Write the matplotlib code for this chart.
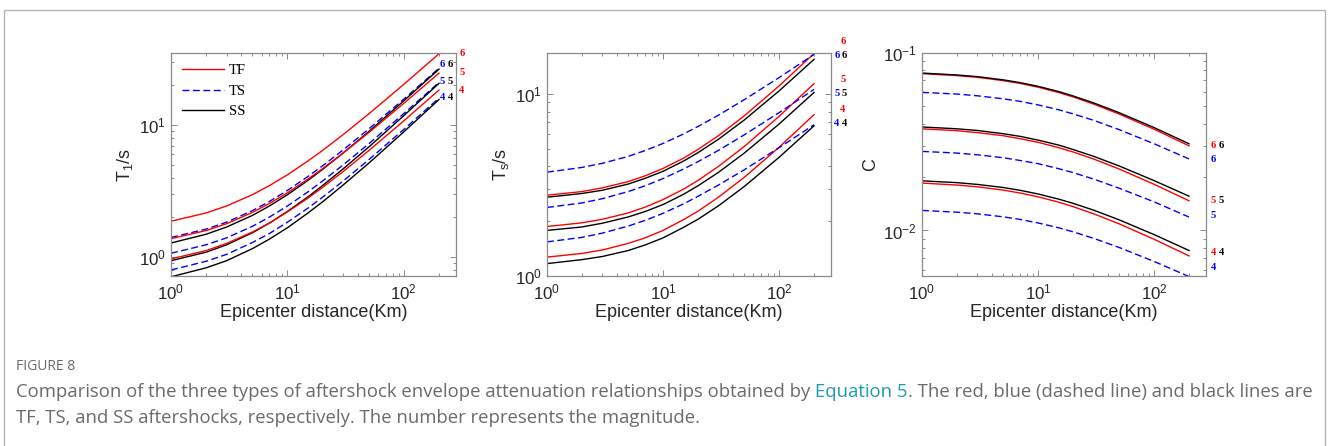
import matplotlib
matplotlib.use('Agg')
import matplotlib.pyplot as plt
from matplotlib.patches import Rectangle
from matplotlib.ticker import LogLocator, NullFormatter
import matplotlib.transforms as mtransforms

# epicentral distance (km) where values were read
dist = [1, 2, 3, 5, 7, 10, 15, 20, 30, 50, 100, 200]

# T1 (s)
t1_tf6 = [1.87, 2.16, 2.44, 2.97, 3.48, 4.20, 5.35, 6.42, 8.45, 12.16, 20.36, 34.6]
t1_tf5 = [1.38, 1.59, 1.79, 2.18, 2.55, 3.07, 3.90, 4.67, 6.13, 8.78, 14.63, 24.7]
t1_tf4 = [0.97, 1.12, 1.27, 1.55, 1.81, 2.20, 2.80, 3.37, 4.44, 6.41, 10.78, 18.4]
t1_ts6 = [1.41, 1.63, 1.84, 2.25, 2.64, 3.20, 4.08, 4.91, 6.47, 9.35, 15.74, 26.9]
t1_ts5 = [1.07, 1.24, 1.40, 1.71, 2.01, 2.44, 3.12, 3.77, 4.98, 7.22, 12.23, 21.0]
t1_ts4 = [0.80, 0.93, 1.05, 1.29, 1.51, 1.84, 2.35, 2.84, 3.76, 5.47, 9.28, 16.0]
t1_ss6 = [1.28, 1.49, 1.69, 2.07, 2.44, 2.97, 3.81, 4.61, 6.13, 8.94, 15.28, 26.5]
t1_ss5 = [0.94, 1.09, 1.24, 1.53, 1.81, 2.22, 2.86, 3.48, 4.65, 6.83, 11.80, 20.7]
t1_ss4 = [0.71, 0.83, 0.94, 1.16, 1.37, 1.67, 2.16, 2.62, 3.51, 5.15, 8.90, 15.6]

# Ts (s)
ts_tf6 = [2.78, 2.91, 3.05, 3.30, 3.55, 3.90, 4.44, 4.96, 5.90, 7.58, 11.08, 16.7]
ts_tf5 = [1.87, 1.96, 2.05, 2.22, 2.39, 2.63, 3.00, 3.35, 4.00, 5.14, 7.54, 11.4]
ts_tf4 = [1.27, 1.33, 1.39, 1.51, 1.62, 1.78, 2.04, 2.27, 2.71, 3.48, 5.10, 7.7]
ts_ts6 = [3.72, 3.95, 4.16, 4.54, 4.89, 5.35, 6.03, 6.63, 7.65, 9.30, 12.31, 16.5]
ts_ts5 = [2.38, 2.52, 2.66, 2.91, 3.13, 3.43, 3.87, 4.25, 4.90, 5.96, 7.90, 10.6]
ts_ts4 = [1.54, 1.63, 1.72, 1.88, 2.02, 2.21, 2.49, 2.74, 3.16, 3.83, 5.07, 6.78]
ts_ss6 = [2.71, 2.84, 2.96, 3.20, 3.44, 3.76, 4.28, 4.76, 5.64, 7.19, 10.40, 15.5]
ts_ss5 = [1.78, 1.86, 1.95, 2.11, 2.26, 2.47, 2.81, 3.13, 3.71, 4.73, 6.84, 10.2]
ts_ss4 = [1.17, 1.23, 1.28, 1.38, 1.48, 1.62, 1.85, 2.05, 2.43, 3.10, 4.49, 6.69]

# C
c_tf6 = [.0765, .0746, .0729, .0699, .0674, .0642, .0599, .0566, .0516, .0453, .0372, .0300]
c_tf5 = [.0374, .0365, .0356, .0342, .0329, .0314, .0293, .0277, .0253, .0222, .0182, .0147]
c_tf4 = [.01849, .01803, .01762, .01689, .01626, .01548, .01444, .01363, .01243, .01090, .00892, .00719]
c_ts6 = [.0600, .0587, .0574, .0552, .0534, .0510, .0479, .0454, .0418, .0370, .0308, .0253]
c_ts5 = [.0279, .0273, .0267, .0257, .0248, .0238, .0223, .0212, .0195, .0173, .0145, .0119]
c_ts4 = [.01297, .01268, .01241, .01194, .01154, .01103, .01036, .00983, .00904, .00802, .00669, .0055]
c_ss6 = [.0771, .0752, .0736, .0706, .0681, .0649, .0607, .0573, .0524, .0461, .0380, .0308]
c_ss5 = [.0383, .0374, .0366, .0351, .0339, .0323, .0303, .0286, .0262, .0231, .0191, .0156]
c_ss4 = [.01905, .01860, .01818, .01747, .01684, .01606, .01503, .01423, .01303, .01148, .00948, .00771]

# magnitude labels: (text, colour, x in axes fraction, y in data units)
lab_t1 = [('6', 'r', 1.021, 35.1), ('6', 'b', 0.951, 28.5), ('6', 'k', 0.979, 28.5),
          ('5', 'r', 1.021, 24.8), ('5', 'b', 0.951, 21.2), ('5', 'k', 0.979, 21.2),
          ('4', 'r', 1.021, 18.4), ('4', 'b', 0.951, 16.3), ('4', 'k', 0.979, 16.3)]
lab_ts = [('6', 'r', 1.042, 19.4), ('6', 'b', 1.021, 16.3), ('6', 'k', 1.046, 16.3),
          ('5', 'r', 1.042, 11.98), ('5', 'b', 1.021, 10.04), ('5', 'k', 1.046, 10.04),
          ('4', 'r', 1.042, 8.20), ('4', 'b', 1.021, 6.86), ('4', 'k', 1.046, 6.86)]
lab_c = [('6', 'r', 1.025, 0.0300), ('6', 'k', 1.054, 0.0300), ('6', 'b', 1.025, 0.0250),
         ('5', 'r', 1.025, 0.01469), ('5', 'k', 1.054, 0.01469), ('5', 'b', 1.025, 0.01208),
         ('4', 'r', 1.025, 0.00748), ('4', 'k', 1.054, 0.00748), ('4', 'b', 1.025, 0.00615)]

W, H = 1328, 446
fig = plt.figure(figsize=(W / 100, H / 100), dpi=100)
plt.rcParams['font.family'] = ['Liberation Sans', 'DejaVu Sans']
plt.rcParams['mathtext.fontset'] = 'custom'
plt.rcParams['mathtext.rm'] = 'Liberation Sans'
plt.rcParams['mathtext.it'] = 'Liberation Sans'

red = '#ff0000'
blue = '#0000ff'
dash = (5, 2.5)
txtc = '#262626'


def px(x0, y0, w, h):
    return [x0 / W, 1 - (y0 + h) / H, w / W, h / H]


def panel(rect, tf, ts, ss, ylim, ylabel, labels, legend=False):
    ax = fig.add_axes(px(*rect))
    for k, (a, b, c) in enumerate(zip(tf, ts, ss)):
        ax.plot(dist, a, color=red, lw=1.0, label='TF' if k == 0 else None)
        ax.plot(dist, b, color=blue, lw=1.0, dashes=dash, label='TS' if k == 0 else None)
        ax.plot(dist, c, color='k', lw=1.0, label='SS' if k == 0 else None)
    ax.set_xscale('log')
    ax.set_yscale('log')
    ax.set_xlim(1, 280)
    ax.set_ylim(*ylim)
    ax.xaxis.set_major_locator(LogLocator(base=10, numticks=10))
    ax.yaxis.set_minor_formatter(NullFormatter())
    ax.xaxis.set_minor_formatter(NullFormatter())
    ax.tick_params(which='both', direction='in', top=True, right=True,
                   colors='#8a8a8a', labelcolor=txtc, labelsize=12.2, width=0.7)
    ax.tick_params(which='major', length=4)
    ax.tick_params(which='minor', length=2.2)
    ax.tick_params(axis='x', which='major', pad=5)
    for s in ax.spines.values():
        s.set_color('#8a8a8a')
        s.set_linewidth(0.9)
    ax.set_xlabel('Epicenter distance(Km)', fontsize=13, color=txtc, labelpad=1)
    ax.set_ylabel(ylabel, fontsize=13, color=txtc, labelpad=3)
    tr = mtransforms.blended_transform_factory(ax.transAxes, ax.transData)
    for t, col, xf, yv in labels:
        ax.text(xf, yv, t, transform=tr, color={'r': red, 'b': blue, 'k': 'k'}[col],
                fontsize=7.6, fontweight='bold', family='Liberation Serif',
                ha='center', va='center', clip_on=False)
    if legend:
        ax.legend(loc='upper left', frameon=False, handlelength=2.9,
                  prop={'family': 'Liberation Serif', 'size': 10.5},
                  borderaxespad=0.35, labelspacing=0.5, handletextpad=0.3)
    return ax


panel((171, 53, 285, 223), [t1_tf6, t1_tf5, t1_tf4], [t1_ts6, t1_ts5, t1_ts4],
      [t1_ss6, t1_ss5, t1_ss4], (0.72, 35.1), r'T$_1$/s', lab_t1, legend=True)
panel((547, 53, 284, 223), [ts_tf6, ts_tf5, ts_tf4], [ts_ts6, ts_ts5, ts_ts4],
      [ts_ss6, ts_ss5, ts_ss4], (1.0, 16.8), r'T$_s$/s', lab_ts)
panel((922, 53, 284, 223), [c_tf6, c_tf5, c_tf4], [c_ts6, c_ts5, c_ts4],
      [c_ss6, c_ss5, c_ss4], (0.00554, 0.1), 'C', lab_c)

# page frame
fig.patches.append(Rectangle((4 / W, -0.05), 1321 / W, 1 - 10 / H + 0.05,
                             transform=fig.transFigure, fill=False,
                             edgecolor='#b5b5b5', lw=1.0))

# caption
capc = '#6a6a6a'
cap_font = ['Open Sans', 'DejaVu Sans']
cap_size = 13.35
fig.text(16 / W, 1 - 367 / H, 'FIGURE 8', fontsize=10, color='#6a6a6a',
         family=cap_font, va='center', ha='left')
fig.canvas.draw()
rend = fig.canvas.get_renderer()
y1 = 1 - 397 / H
t1 = fig.text(16 / W, y1, 'Comparison of the three types of aftershock envelope attenuation relationships obtained by ',
              fontsize=cap_size, color=capc, family=cap_font, va='baseline', ha='left')
e1 = t1.get_window_extent(rend)
t2 = fig.text(e1.x1 / W, y1, 'Equation 5', fontsize=cap_size, color='#1b9cb8',
              family=cap_font, va='baseline', ha='left')
e2 = t2.get_window_extent(rend)
fig.text(e2.x1 / W, y1, '. The red, blue (dashed line) and black lines are',
         fontsize=cap_size, color=capc, family=cap_font, va='baseline', ha='left')
fig.text(16 / W, 1 - 423 / H, 'TF, TS, and SS aftershocks, respectively. The number represents the magnitude.',
         fontsize=cap_size, color=capc, family=cap_font, va='baseline', ha='left')

fig.savefig('out.png', dpi=100)
